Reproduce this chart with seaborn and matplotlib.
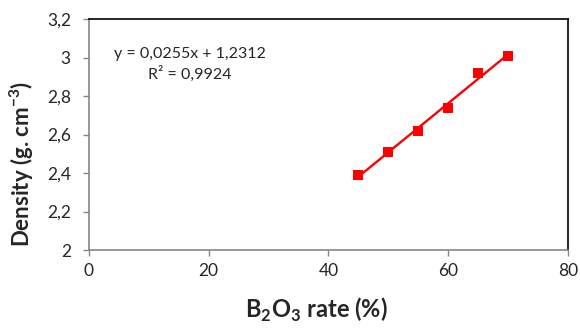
import matplotlib
matplotlib.use("Agg")
import matplotlib.pyplot as plt
import matplotlib.ticker as mticker
import numpy as np
import pandas as pd
import seaborn as sns

# data
b2o3_rate = [45, 50, 55, 60, 65, 70]
density = [2.39, 2.51, 2.62, 2.74, 2.92, 3.01]
eq_text = "y = 0,0255x + 1,2312"
r2_text = "R² = 0,9924"

sns.set_style("white")
plt.rcParams["font.family"] = ["Lato", "DejaVu Sans"]

df = pd.DataFrame({"rate": b2o3_rate, "density": density})
slope, intercept = np.polyfit(df["rate"], df["density"], 1)
fit = pd.DataFrame({"rate": [df["rate"].min(), df["rate"].max()]})
fit["density"] = slope * fit["rate"] + intercept

fig = plt.figure(figsize=(5.8, 3.29), dpi=100)
ax = fig.add_axes([0.1534, 0.240, 0.8256, 0.702])

sns.lineplot(data=fit, x="rate", y="density", color="#ff0000", linewidth=1.7, ax=ax)
sns.scatterplot(data=df, x="rate", y="density", marker="s", s=45, color="#ff0000",
                edgecolor="#ff0000", linewidth=0, ax=ax, zorder=3)

ax.set_xlim(0, 80)
ax.set_ylim(2, 3.2)
ax.set_xticks([0, 20, 40, 60, 80])
ax.set_yticks(np.arange(2, 3.21, 0.2))
comma = mticker.FuncFormatter(lambda v, p: f"{v:.1f}".rstrip("0").rstrip(".").replace(".", ","))
ax.yaxis.set_major_formatter(comma)
ax.xaxis.set_major_formatter(comma)

for side in ["left", "bottom"]:
    ax.spines[side].set_color("#868686")
    ax.spines[side].set_linewidth(1.2)
for side in ["top", "right"]:
    ax.spines[side].set_color("black")
    ax.spines[side].set_linewidth(1.2)

ax.tick_params(axis="both", which="major", direction="out", length=4, width=1,
               color="#868686", labelsize=12.5, left=True, bottom=True)
ax.tick_params(axis="y", pad=9)
ax.tick_params(axis="x", pad=5)

ax.set_xlabel("B$_\\mathregular{2}$O$_\\mathregular{3}$ rate (%)", fontsize=17, fontweight="bold")
ax.set_ylabel("Density (g. cm$^\\mathregular{-3}$)", fontsize=16, fontweight="bold")
ax.xaxis.set_label_coords(0.474, -0.2)
ax.yaxis.set_label_coords(-0.11, 0.375)

ax.text(0.211, 0.848, eq_text, transform=ax.transAxes, ha="center", va="center", fontsize=11.5)
ax.text(0.211, 0.762, r2_text, transform=ax.transAxes, ha="center", va="center", fontsize=11.5)

fig.savefig("out.png", dpi=100)
plt.close(fig)
